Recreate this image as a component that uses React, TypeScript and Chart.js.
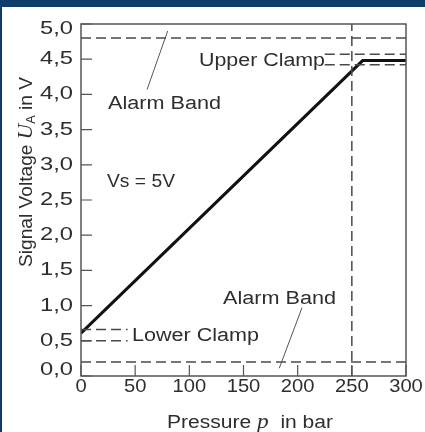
import React, { useEffect, useRef } from "react";
import { Chart, registerables } from "chart.js";

Chart.register(...registerables);

// ---- data ----
const xTicks = [0, 50, 100, 150, 200, 250, 300];
const xTickLabels = ["0", "50", "100", "150", "200", "250", "300"];
const yTicks = [0, 0.5, 1.0, 1.5, 2.0, 2.5, 3.0, 3.5, 4.0, 4.5, 5.0];
const yTickLabels = ["0,0", "0,5", "1,0", "1,5", "2,0", "2,5", "3,0", "3,5", "4,0", "4,5", "5,0"];

const signalX = [0, 260, 300];
const signalY = [0.61, 4.48, 4.48];

const alarmHighX = [0, 300];
const alarmHighY = [4.8, 4.8];
const alarmLowX = [0, 300];
const alarmLowY = [0.2, 0.2];

const upperClampX = [225, 300];
const upperClampHighY = [4.57, 4.57];
const upperClampLowY = [4.42, 4.42];

const lowerClampX = [0, 43];
const lowerClampHighY = [0.66, 0.66];
const lowerClampLowY = [0.5, 0.5];

const nominalX = [250, 250];
const nominalY = [0, 5];

const leaderTopX = [61, 80];
const leaderTopY = [4.07, 4.9];
const leaderBottomX = [204, 183];
const leaderBottomY = [0.97, 0.11];

const pts = (xs: number[], ys: number[]) => xs.map((x, i) => ({ x, y: ys[i] }));

const SANS = "'Liberation Sans', Arial, sans-serif";
const SERIF = "'Liberation Serif', 'Times New Roman', serif";
const TEXT = "#2e2e2e";
const DASHC = "#4a4a4a";
const FONT = `18px ${SANS}`;

// draw text horizontally stretched so it occupies a given width
function drawFit(
  ctx: CanvasRenderingContext2D,
  text: string,
  x: number,
  y: number,
  width: number,
  align: "left" | "right" | "center"
) {
  ctx.save();
  ctx.font = FONT;
  ctx.textBaseline = "middle";
  ctx.textAlign = "left";
  const w = ctx.measureText(text).width;
  const s = width / w;
  const left = align === "left" ? x : align === "right" ? x - width : x - width / 2;
  ctx.translate(left, y);
  ctx.scale(s, 1);
  ctx.fillText(text, 0, 0);
  ctx.restore();
}

function drawParts(
  ctx: CanvasRenderingContext2D,
  parts: [string, string, number][],
  width: number
) {
  let tw = 0;
  parts.forEach(([t, f]) => {
    ctx.font = f;
    tw += ctx.measureText(t).width;
  });
  const s = width / tw;
  ctx.scale(s, 1);
  let cx = -tw / 2;
  ctx.textAlign = "left";
  ctx.textBaseline = "alphabetic";
  parts.forEach(([t, f, dy]) => {
    ctx.font = f;
    ctx.fillText(t, cx, dy);
    cx += ctx.measureText(t).width;
  });
}

export default function App() {
  const ref = useRef<HTMLCanvasElement | null>(null);

  useEffect(() => {
    if (!ref.current) return;

    const dashed = (data: { x: number; y: number }[]) => ({
      data,
      showLine: true,
      borderColor: DASHC,
      borderWidth: 1.5,
      borderDash: [10, 5],
      pointRadius: 0,
      fill: false,
    });
    const thin = (data: { x: number; y: number }[]) => ({
      data,
      showLine: true,
      borderColor: "#555",
      borderWidth: 1,
      pointRadius: 0,
      fill: false,
    });

    const overlay = {
      id: "overlay",
      afterDraw(chart: any) {
        const ctx = chart.ctx as CanvasRenderingContext2D;
        const { left, right, top, bottom } = chart.chartArea;
        const xs = chart.scales.x;
        const ys = chart.scales.y;
        ctx.save();
        // frame
        ctx.strokeStyle = "#555";
        ctx.lineWidth = 1.5;
        ctx.strokeRect(left, top, right - left, bottom - top);
        // inward ticks
        ctx.beginPath();
        yTicks.forEach((v) => {
          const py = ys.getPixelForValue(v);
          ctx.moveTo(left, py);
          ctx.lineTo(left + 11, py);
        });
        xTicks.forEach((v) => {
          const px = xs.getPixelForValue(v);
          ctx.moveTo(px, bottom);
          ctx.lineTo(px, bottom - 11);
        });
        ctx.lineWidth = 1.2;
        ctx.stroke();

        ctx.fillStyle = TEXT;
        // tick labels
        yTicks.forEach((v, i) => {
          const py = Math.min(Math.max(ys.getPixelForValue(v), top + 5), bottom - 6);
          drawFit(ctx, yTickLabels[i], left - 8, py, 33, "right");
        });
        xTicks.forEach((v, i) => {
          const px = xs.getPixelForValue(v);
          const lab = xTickLabels[i];
          ctx.font = FONT;
          const w = ctx.measureText(lab).width * 1.12;
          drawFit(ctx, lab, px, bottom + 11, w, "center");
        });

        // annotations
        drawFit(ctx, "Alarm Band", 108, 104, 113, "left");
        drawFit(ctx, "Vs = 5V", 107, 182, 68, "left");
        drawFit(ctx, "Alarm Band", 223, 299, 113, "left");
        drawFit(ctx, "Lower Clamp", 132, 336, 127, "left");
        drawFit(ctx, "Upper Clamp", 325, 61, 126, "right");

        // x title
        ctx.save();
        ctx.translate(250, 428);
        drawParts(
          ctx,
          [
            ["Pressure ", FONT, 0],
            ["p", `italic 20px ${SERIF}`, 0],
            ["  in bar", FONT, 0],
          ],
          166
        );
        ctx.restore();

        // y title
        ctx.save();
        ctx.translate(32, 172);
        ctx.rotate(-Math.PI / 2);
        drawParts(
          ctx,
          [
            ["Signal Voltage ", FONT, 0],
            ["U", `italic 20px ${SERIF}`, 0],
            ["A", `12px ${SANS}`, 3],
            [" in V", FONT, 0],
          ],
          190
        );
        ctx.restore();
        ctx.restore();
      },
    };

    const chart = new Chart(ref.current, {
      type: "scatter",
      data: {
        datasets: [
          dashed(pts(alarmHighX, alarmHighY)),
          dashed(pts(alarmLowX, alarmLowY)),
          dashed(pts(upperClampX, upperClampHighY)),
          dashed(pts(upperClampX, upperClampLowY)),
          dashed(pts(lowerClampX, lowerClampHighY)),
          dashed(pts(lowerClampX, lowerClampLowY)),
          dashed(pts(nominalX, nominalY)),
          thin(pts(leaderTopX, leaderTopY)),
          thin(pts(leaderBottomX, leaderBottomY)),
          {
            data: pts(signalX, signalY),
            showLine: true,
            borderColor: "#111",
            borderWidth: 3,
            pointRadius: 0,
            fill: false,
          },
        ] as any,
      },
      options: {
        animation: false,
        responsive: false,
        layout: { padding: { left: 0, top: 24, right: 19, bottom: 0 } },
        plugins: { legend: { display: false }, tooltip: { enabled: false } },
        scales: {
          x: {
            type: "linear",
            min: 0,
            max: 300,
            afterFit: (s: any) => {
              s.height = 56;
            },
            grid: { display: false, drawTicks: false },
            border: { display: false },
            ticks: { display: false },
          },
          y: {
            type: "linear",
            min: 0,
            max: 5,
            afterFit: (s: any) => {
              s.width = 81;
            },
            grid: { display: false, drawTicks: false },
            border: { display: false },
            ticks: { display: false },
          },
        },
      },
      plugins: [overlay],
    } as any);
    return () => chart.destroy();
  }, []);

  return (
    <div style={{ position: "fixed", left: 0, top: 0, width: 425, height: 432, background: "#fff" }}>
      <canvas ref={ref} width={425} height={432} style={{ position: "absolute", left: 0, top: 0 }} />
      <div style={{ position: "absolute", left: 0, top: 0, width: 425, height: 7, background: "#0d3d6b" }} />
      <div style={{ position: "absolute", left: 0, top: 0, width: 2, height: 432, background: "#0d3d6b" }} />
    </div>
  );
}
